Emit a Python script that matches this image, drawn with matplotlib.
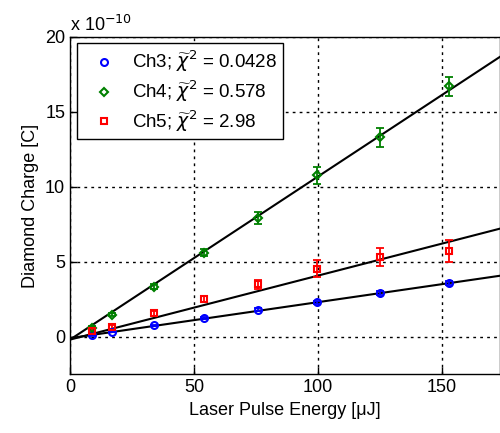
import numpy as np
import matplotlib
matplotlib.use("Agg")
import matplotlib.pyplot as plt

plt.rcParams['font.family'] = ['Liberation Sans', 'DejaVu Sans']
plt.rcParams['font.size'] = 13

# energies [uJ] and charges [1e-10 C]
energia = [9.0, 17.0, 34.0, 54.0, 76.0, 99.5, 125.0, 153.0]
ch3 = [0.09, 0.31, 0.75, 1.24, 1.80, 2.31, 2.91, 3.58]
ch4 = [0.60, 1.47, 3.33, 5.60, 7.93, 10.75, 13.30, 16.70]
ch5 = [0.35, 0.65, 1.55, 2.53, 3.50, 4.53, 5.30, 5.70]
err3 = [0.03, 0.03, 0.05, 0.06, 0.08, 0.10, 0.12, 0.14]
err4 = [0.10, 0.12, 0.18, 0.25, 0.40, 0.57, 0.65, 0.62]
err5 = [0.10, 0.12, 0.15, 0.20, 0.30, 0.55, 0.58, 0.72]

# fit lines: slope [1e-10 C/uJ], intercept [1e-10 C]
fit3 = (0.0240, -0.10)
fit4 = (0.1088, -0.20)
fit5 = (0.0427, -0.20)

legenda = [r'Ch3; $\widetilde{\chi}^2$ = 0.0428',
           r'Ch4; $\widetilde{\chi}^2$ = 0.578',
           r'Ch5; $\widetilde{\chi}^2$ = 2.98']

fig = plt.figure(figsize=(5, 4.33), dpi=100)
ax = fig.add_axes([0.14, 0.136, 0.86, 0.779])

x = np.array(energia)
xs = np.array([0, 180])
for fit in [fit3, fit4, fit5]:
    ax.plot(xs, (fit[0] * xs + fit[1]) * 1e-10, color='black', lw=1.5, zorder=3)

series = [(ch3, err3, 'b', 'o'), (ch4, err4, 'g', 'D'), (ch5, err5, 'r', 's')]
for (y, e, c, m), lab in zip(series, legenda):
    y = np.array(y) * 1e-10
    e = np.array(e) * 1e-10
    ax.errorbar(x, y, yerr=e, fmt='none', ecolor=c, elinewidth=1.3, capsize=3, capthick=1.3, zorder=4)
    ax.plot(x, y, linestyle='none', marker=m, markersize=5 if m != 'D' else 4,
            markerfacecolor='none', markeredgecolor=c, markeredgewidth=1.5, label=lab, zorder=5)

ax.set_xlim(0, 173.4)
ax.set_ylim(-2.5e-10, 20e-10)
ax.set_xticks([0, 50, 100, 150])
ax.set_yticks(np.array([0, 5, 10, 15, 20]) * 1e-10)
ax.set_yticklabels(['0', '5', '10', '15', '20'])
ax.tick_params(direction='in', length=5, width=1)
ax.grid(True, color='black', linestyle=(0, (2, 3)), linewidth=1)
ax.text(0.0, 1.005, r'x 10$^{-10}$', transform=ax.transAxes, fontsize=13, va='bottom', ha='left')
for s in ax.spines.values():
    s.set_linewidth(1)

ax.set_xlabel('Laser Pulse Energy [μJ]')
ax.set_ylabel('Diamond Charge [C]')

leg = ax.legend(loc='upper left', fancybox=False, framealpha=1, edgecolor='black',
                fontsize=13.5, borderaxespad=0.35, borderpad=0.3, handletextpad=0.35,
                handlelength=2.3, labelspacing=0.22)
leg.get_frame().set_linewidth(1)

fig.savefig('out.png', dpi=100)
